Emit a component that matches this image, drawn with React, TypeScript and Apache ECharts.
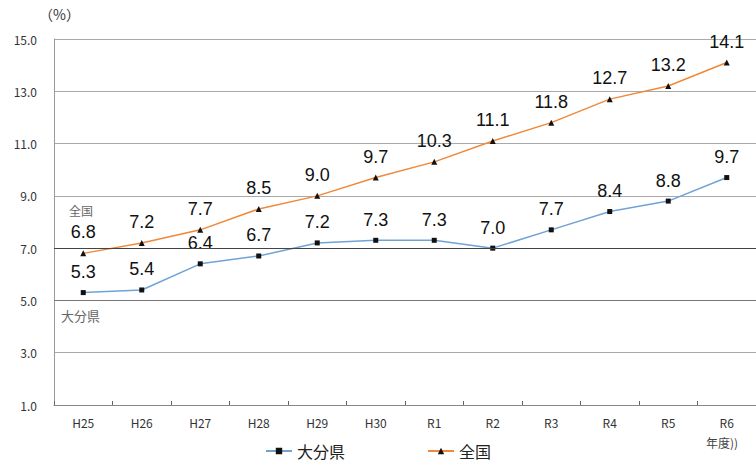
import React, { useEffect, useRef } from "react";
import * as echarts from "echarts";

const categories = ["H25", "H26", "H27", "H28", "H29", "H30", "R1", "R2", "R3", "R4", "R5", "R6"];
const oitaValues = [5.3, 5.4, 6.4, 6.7, 7.2, 7.3, 7.3, 7.0, 7.7, 8.4, 8.8, 9.7];
const nationalValues = [6.8, 7.2, 7.7, 8.5, 9.0, 9.7, 10.3, 11.1, 11.8, 12.7, 13.2, 14.1];
const seriesNames = ["大分県", "全国"];

const FONT = "'Noto Sans CJK JP', 'Noto Sans', sans-serif";
const NUM_FONT = "'Liberation Sans', Arial, sans-serif";

export default function App() {
  const ref = useRef<HTMLDivElement>(null);

  useEffect(() => {
    if (!ref.current) return;
    const chart = echarts.init(ref.current, null, { renderer: "svg" });
    const valueLabel = {
      show: true,
      position: "top",
      distance: 9,
      fontSize: 18,
      color: "#111",
      fontFamily: NUM_FONT,
      formatter: (p: any) => Number(p.value).toFixed(1),
    };
    chart.setOption({
      animation: false,
      backgroundColor: "#ffffff",
      textStyle: { fontFamily: FONT },
      grid: { left: 54, right: -3, top: 39, bottom: 61, containLabel: false },
      legend: {
        bottom: 2,
        left: "center",
        itemGap: 82,
        itemWidth: 26,
        itemHeight: 8,
        textStyle: { fontSize: 16, color: "#222", fontFamily: FONT },
        data: seriesNames,
      },
      xAxis: {
        type: "category",
        data: categories,
        boundaryGap: true,
        axisLine: { lineStyle: { color: "#888", width: 1 } },
        axisTick: { show: true, inside: true, length: 4, alignWithLabel: false, lineStyle: { color: "#666" } },
        axisLabel: { color: "#333", fontSize: 12, margin: 11, fontFamily: FONT },
      },
      yAxis: {
        type: "value",
        min: 1,
        max: 15,
        interval: 2,
        axisLine: { show: true, lineStyle: { color: "#999" } },
        axisTick: { show: false },
        axisLabel: {
          color: "#333",
          fontSize: 12,
          margin: 17,
          fontFamily: FONT,
          formatter: (v: number) => v.toFixed(1),
        },
        splitLine: { show: true, lineStyle: { color: "#aaa", width: 1 } },
      },
      graphic: [
        { type: "text", left: 39, top: 7, style: { text: "（%）", fill: "#333", font: `14px ${FONT}` } },
        { type: "text", left: 69, top: 204, style: { text: "全国", fill: "#666", font: `12px ${FONT}` } },
        { type: "text", left: 61, top: 309, style: { text: "大分県", fill: "#666", font: `13px ${FONT}` } },
        { type: "text", left: 706, top: 436, style: { text: "年度))", fill: "#444", font: `12px ${FONT}` } },
      ],
      series: [
        {
          name: seriesNames[0],
          type: "line",
          data: oitaValues,
          symbol: "rect",
          symbolSize: 5,
          itemStyle: { color: "#111" },
          lineStyle: { color: "#6fa3d6", width: 1.5 },
          label: valueLabel,
          markLine: {
            silent: true,
            symbol: "none",
            label: { show: false },
            data: [
              { yAxis: 7, lineStyle: { color: "#444", width: 1, type: "solid" } },
              { yAxis: 5, lineStyle: { color: "#777", width: 1, type: "solid" } },
            ],
          },
          z: 3,
        },
        {
          name: seriesNames[1],
          type: "line",
          data: nationalValues,
          symbol: "triangle",
          symbolSize: 6,
          itemStyle: { color: "#111" },
          lineStyle: { color: "#f0883a", width: 1.5 },
          label: valueLabel,
          z: 3,
        },
      ],
    });
    return () => chart.dispose();
  }, []);

  return (
    <div
      ref={ref}
      style={{ position: "fixed", left: 0, top: 0, width: 756, height: 466, background: "#fff" }}
    />
  );
}
